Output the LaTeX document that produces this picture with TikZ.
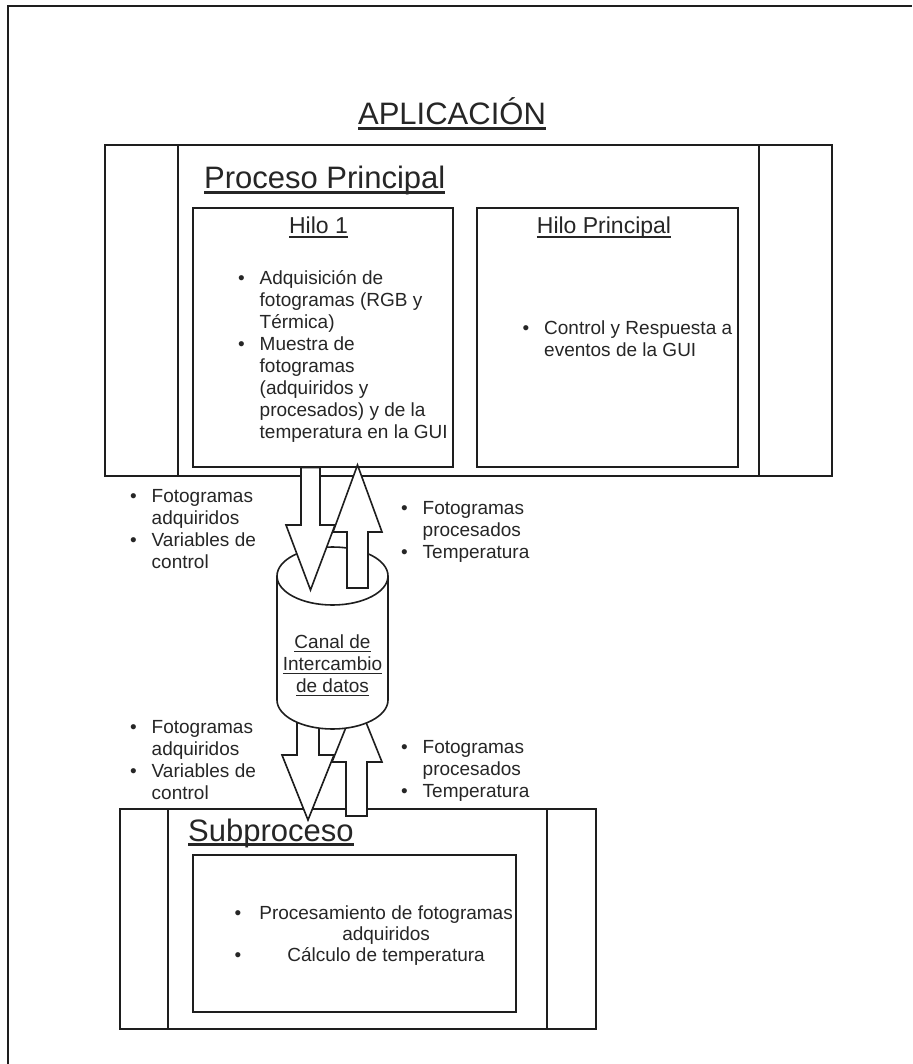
\documentclass[tikz,border=0pt]{standalone}
\usepackage{fontspec}
\setmainfont{Liberation Sans}
\usetikzlibrary{fit}
\definecolor{ink}{HTML}{1E1E1E}
\definecolor{txt}{HTML}{262626}
\newcommand{\uln}[3]{\leavevmode\setbox0=\hbox{#3}\rlap{\rule[-#1]{\wd0}{#2}}\box0}
\newcommand{\bitem}[1]{\par\noindent\hangindent=21.5pt\hangafter=1\makebox[21.5pt][l]{\textbullet}#1\par}
\begin{document}
\begin{tikzpicture}[x=1pt,y=-1pt,
  line/.style={draw=ink, line width=1.6pt},
  box/.style={line, inner sep=0pt},
  blockarrow/.style={draw=ink, line width=1.6pt, fill=white, line join=miter},
  lbl/.style={inner sep=0pt, text=txt, font=\fontsize{19}{22}\selectfont},
  big/.style={inner sep=0pt, text=txt, font=\fontsize{31}{36}\selectfont},
  mid/.style={inner sep=0pt, text=txt, font=\fontsize{23}{27}\selectfont}]
\useasboundingbox (0,0) rectangle (912,1064);
\fill[white] (0,0) rectangle (912,1064);
% outer frame (cropped)
\draw[ink, line width=1.4pt] (8,1064) -- (8,6) -- (912,6);

% Proceso Principal
\node[box, fit={(105,145) (832,476)}] (pp) {};
\draw[line] (178,145) -- (178,476);
\draw[line] (759,145) -- (759,476);
\node[box, fit={(193,208) (453,467)}] (h1) {};
\node[box, fit={(477,208) (738,467)}] (hp) {};

% Subproceso
\node[box, fit={(120,809) (596,1029)}] (sp) {};
\draw[line] (168,809) -- (168,1029);
\draw[line] (547,809) -- (547,1029);
\node[box, fit={(193,855) (516,1012)}] (spin) {};

% bottom block arrows
\draw[blockarrow] (297,700) -- (319,700) -- (319,755) -- (334,755) -- (308,820) -- (282,755) -- (297,755) -- cycle;
\draw[blockarrow] (357,700) -- (382,762) -- (367,762) -- (367,816) -- (346,816) -- (346,762) -- (332,762) -- cycle;

% cylinder
\coordinate (cyl) at (332.5,638);
\draw[line, fill=white] (277,576) -- (277,700) arc[start angle=180, end angle=0, x radius=55.5, y radius=29]
  -- (388,576) arc[start angle=0, end angle=-180, x radius=55.5, y radius=29] -- cycle;
\draw[line] (277,576) arc[start angle=180, end angle=0, x radius=55.5, y radius=29];

% top block arrows
\draw[blockarrow] (301,467.5) -- (320,467.5) -- (320,525) -- (335,525) -- (310.5,590) -- (286,525) -- (301,525) -- cycle;
\draw[blockarrow] (357.5,465) -- (382,532) -- (368,532) -- (368,588) -- (347,588) -- (347,532) -- (333,532) -- cycle;

% titles
\node[big, anchor=base] (app) at (452,125) {\uln{5pt}{2.6pt}{APLICACIÓN}};
\node[big, anchor=base west] (ppt) at (204,189) {\uln{5pt}{2.6pt}{Proceso Principal}};
\node[big, anchor=base west] (spt) at (188,841) {\uln{5pt}{2.6pt}{Subproceso}};
\node[mid, anchor=base] (h1t) at (318.5,234) {\uln{4pt}{1.6pt}{Hilo 1}};
\node[mid, anchor=base] (hpt) at (604,234) {\uln{4pt}{1.6pt}{Hilo Principal}};

% lists
\node[lbl, anchor=base west] (h1l) at (238,284.5) {\parbox[t]{230pt}{\raggedright
  \bitem{Adquisición de\newline fotogramas (RGB y\newline Térmica)}
  \bitem{Muestra de\newline fotogramas\newline (adquiridos y\newline procesados) y de la\newline temperatura en la GUI}}};
\node[lbl, anchor=base west] (hpl) at (522.5,334.5) {\parbox[t]{230pt}{\raggedright
  \bitem{Control y Respuesta a\newline eventos de la GUI}}};

\node[lbl, anchor=base west] (lt) at (130,502.5) {\parbox[t]{160pt}{\raggedright
  \bitem{Fotogramas\newline adquiridos}\bitem{Variables de\newline control}}};
\node[lbl, anchor=base west] (rt) at (401,514.5) {\parbox[t]{160pt}{\raggedright
  \bitem{Fotogramas\newline procesados}\bitem{Temperatura}}};
\node[lbl, anchor=base west] (lb) at (130,733.5) {\parbox[t]{160pt}{\raggedright
  \bitem{Fotogramas\newline adquiridos}\bitem{Variables de\newline control}}};
\node[lbl, anchor=base west] (rb) at (401,753.5) {\parbox[t]{160pt}{\raggedright
  \bitem{Fotogramas\newline procesados}\bitem{Temperatura}}};

\node[lbl, anchor=base] (canal) at (332.5,648.5) {\parbox[t]{130pt}{\centering
  \uln{3.8pt}{1.3pt}{Canal de}\\\uln{3.8pt}{1.3pt}{Intercambio}\\\uln{3.8pt}{1.3pt}{de datos}}};

\node[lbl, anchor=base west, font=\fontsize{19}{21}\selectfont] (spl) at (234.5,919.5)
  {\begin{tabular}[t]{@{}l@{\hspace{18pt}}c@{}}
   \textbullet & Procesamiento de fotogramas\\
               & adquiridos\\
   \textbullet & Cálculo de temperatura
   \end{tabular}};
\end{tikzpicture}
\end{document}
